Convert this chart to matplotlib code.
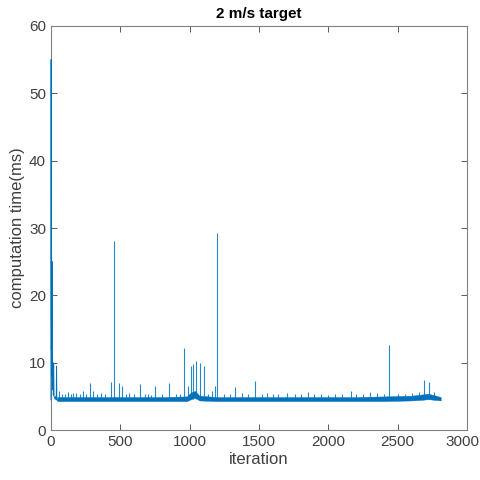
import matplotlib.pyplot as plt
from matplotlib.transforms import ScaledTranslation

# start-up transient (iteration, computation time in ms)
start_iter = [0, 1, 2, 3, 5, 7, 9, 11, 13, 15, 17, 19, 22, 25, 30, 35, 38, 40, 42, 45, 50]
start_time = [4.5, 55, 18, 12, 17, 8, 25, 9, 6, 10, 5.2, 9.8, 5.0, 4.8, 4.6, 5.0, 4.5, 9.5, 4.6, 4.4, 4.5]

# steady-state noise band (lower / upper envelope)
band_iter = [45, 200, 400, 600, 800, 980, 1010, 1040, 1070, 1200, 1400, 1600, 1800,
             2000, 2200, 2400, 2600, 2680, 2720, 2760, 2810]
band_low = [4.3, 4.3, 4.3, 4.3, 4.3, 4.3, 4.6, 4.8, 4.4, 4.3, 4.3, 4.3, 4.3,
            4.3, 4.3, 4.3, 4.4, 4.5, 4.6, 4.5, 4.4]
band_high = [4.9, 4.9, 4.9, 4.9, 4.9, 5.0, 5.6, 5.8, 5.1, 4.9, 4.9, 4.9, 4.9,
             4.9, 4.9, 5.0, 5.1, 5.3, 5.4, 5.2, 4.9]

# isolated spikes (iteration, peak time in ms)
spike_iter = [60, 120, 180, 230, 280, 300, 430, 455, 490, 510, 560, 640, 700, 750, 850,
              960, 990, 1010, 1025, 1045, 1075, 1100, 1160, 1180, 1195, 1330, 1470,
              1560, 1700, 1850, 2160, 2300, 2440, 2600, 2690, 2725]
spike_peak = [5.8, 5.6, 5.5, 5.8, 7.0, 5.8, 7.1, 28.0, 7.0, 6.5, 5.5, 6.8, 5.3, 6.5, 7.0,
              12.2, 6.5, 9.5, 9.8, 10.3, 9.9, 9.5, 5.8, 6.5, 29.2, 6.4, 7.3,
              5.5, 5.5, 5.6, 5.8, 5.6, 12.6, 5.5, 7.5, 7.2]

# small ripples on top of the band
ripple_iter = [80, 100, 145, 160, 210, 255, 330, 360, 390, 540, 600, 680, 720, 800, 900,
               930, 1130, 1250, 1290, 1380, 1420, 1520, 1600, 1640, 1760, 1800, 1900,
               1950, 2000, 2050, 2100, 2200, 2250, 2350, 2400, 2500, 2550, 2650, 2760]
ripple_peak = [5.3, 5.4, 5.3, 5.5, 5.3, 5.4, 5.3, 5.5, 5.3, 5.4, 5.3, 5.4, 5.2, 5.3, 5.4,
               5.3, 5.3, 5.4, 5.3, 5.5, 5.3, 5.4, 5.3, 5.3, 5.4, 5.3, 5.3,
               5.3, 5.2, 5.3, 5.4, 5.4, 5.3, 5.5, 5.3, 5.4, 5.3, 5.6, 5.6]

blue = "#0072BD"
plt.rcParams["font.family"] = ["Liberation Sans", "DejaVu Sans"]

fig = plt.figure(figsize=(4.81, 4.80), dpi=100)
ax = fig.add_axes([0.106, 0.104, 0.865, 0.842])

ax.fill_between(band_iter, band_low, band_high, color=blue, linewidth=0.3, edgecolor=blue, zorder=3)
ax.plot(start_iter, start_time, color=blue, linewidth=0.7, zorder=3, clip_on=False)
ax.vlines(spike_iter, 4.6, spike_peak, color=blue, linewidth=0.8, alpha=0.85, zorder=3)
ax.vlines(ripple_iter, 4.6, ripple_peak, color=blue, linewidth=0.8, alpha=0.85, zorder=3)

ax.set_xlim(0, 3000)
ax.set_ylim(0, 60)
ax.set_xticks(range(0, 3001, 500))
ax.set_yticks(range(0, 61, 10))
ax.tick_params(direction="in", top=True, right=True, labelsize=11, colors="#404040",
               length=4, width=0.6)
for s in ax.spines.values():
    s.set_color("#808080")
    s.set_linewidth(0.8)
    s.set_zorder(2)

ax.set_xlabel("iteration", fontsize=12, color="#404040", labelpad=2)
ax.set_ylabel("computation time(ms)", fontsize=12, color="#404040", labelpad=3)
ax.set_title("2 m/s target", fontsize=11, fontweight="bold", pad=6)

# keep the last x tick label inside the figure
fig.canvas.draw()
last = ax.get_xticklabels()[-1]
last.set_transform(last.get_transform() + ScaledTranslation(-5 / 100, 0, fig.dpi_scale_trans))

fig.savefig("out.png", dpi=100)
